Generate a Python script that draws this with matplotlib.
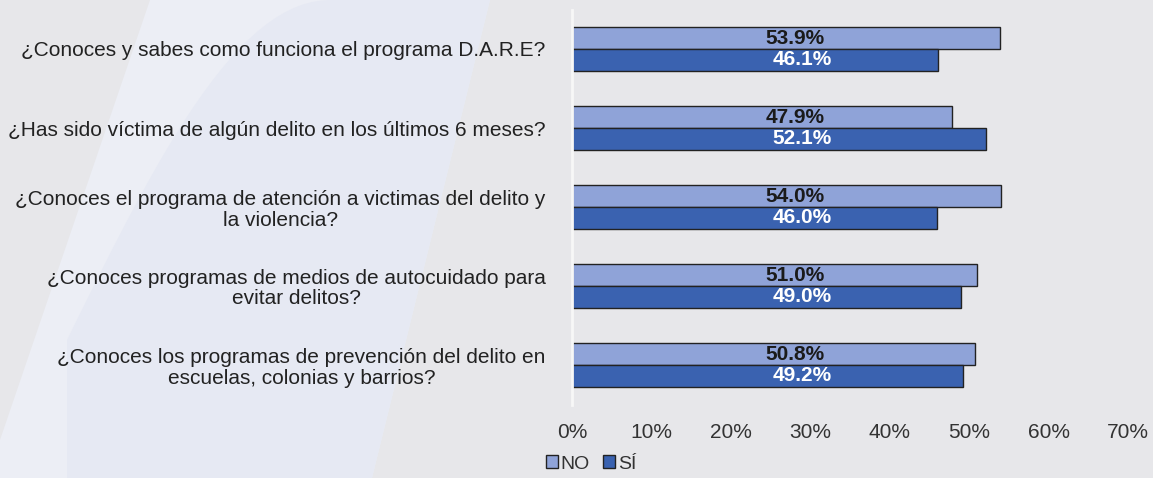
import matplotlib
matplotlib.use("Agg")
import matplotlib.pyplot as plt
from matplotlib.patches import Patch, Polygon
import numpy as np

categories = [
    "¿Conoces y sabes como funciona el programa D.A.R.E?",
    "¿Has sido víctima de algún delito en los últimos 6 meses?",
    "¿Conoces el programa de atención a victimas del delito y\nla violencia?",
    "¿Conoces programas de medios de autocuidado para\nevitar delitos?",
    "¿Conoces los programas de prevención del delito en\nescuelas, colonias y barrios?",
]
no_vals = [53.9, 47.9, 54.0, 51.0, 50.8]
si_vals = [46.1, 52.1, 46.0, 49.0, 49.2]
series_names = ["NO", "SÍ"]
xticks = [0, 10, 20, 30, 40, 50, 60, 70]

plt.rcParams['font.family'] = ['Liberation Sans', 'DejaVu Sans']

W, H = 1153, 478
fig = plt.figure(figsize=(W / 100, H / 100), dpi=100)
fig.patch.set_facecolor('#e7e7ea')

# decorative watermark (figure pixel coords -> fraction)
def fp(pts):
    return [(x / W, 1 - y / H) for x, y in pts]

fig.patches.append(Polygon(fp([(150, 0), (490, 0), (372, 478), (0, 478), (0, 440)]),
                           closed=True, transform=fig.transFigure,
                           facecolor='#eceef5', edgecolor='none', zorder=-10))
arch = [(67, 478), (67, 340)]
for t in np.linspace(0, 1, 30):
    arch.append((67 + (330 - 67) * t, 340 - 340 * np.sin(t * np.pi / 2)))
arch += [(490, 0), (372, 478)]
fig.patches.append(Polygon(fp(arch), closed=True, transform=fig.transFigure,
                           facecolor='#e6e9f3', edgecolor='none', zorder=-9))

ax = fig.add_axes([572 / W, 1 - 404.5 / H, (1128 - 572) / W, (404.5 - 9.5) / H])
ax.set_facecolor('none')
ax.set_zorder(1)

y = np.arange(len(categories))
h = 0.278
c_no = '#8fa3d8'
c_si = '#3a62b0'
ax.barh(y - h / 2, no_vals, height=h, color=c_no, edgecolor='#222222', linewidth=1.0, label=series_names[0])
ax.barh(y + h / 2, si_vals, height=h, color=c_si, edgecolor='#222222', linewidth=1.0, label=series_names[1])

for yi, v in zip(y, no_vals):
    ax.text(28.1, yi - h / 2, f"{v:.1f}%", ha='center', va='center', fontsize=15,
            fontweight='bold', color='#1a1a1a')
for yi, v in zip(y, si_vals):
    ax.text(29.0, yi + h / 2, f"{v:.1f}%", ha='center', va='center', fontsize=15,
            fontweight='bold', color='white')

ax.set_xlim(0, 70)
ax.set_ylim(len(categories) - 0.5, -0.5)
ax.set_xticks(xticks)
ax.set_xticklabels([f"{t}%" for t in xticks], fontsize=15, color='#333333')
ax.set_yticks(y)
ax.set_yticklabels(categories, fontsize=15, color='#222222', multialignment='center',
                   linespacing=1.1)
ax.tick_params(axis='both', length=0)
ax.tick_params(axis='x', pad=13)
ax.tick_params(axis='y', pad=19)
for s in ['top', 'right', 'bottom']:
    ax.spines[s].set_visible(False)
ax.spines['left'].set_color('#f7f7f7')
ax.spines['left'].set_linewidth(2)

handles = [Patch(facecolor=c_no, edgecolor='#222222', label=series_names[0]),
           Patch(facecolor=c_si, edgecolor='#222222', label=series_names[1])]
leg = fig.legend(handles=handles, loc='center left', bbox_to_anchor=(546 / W, 1 - 464 / H),
                 ncol=2, frameon=False, fontsize=14, handlelength=0.6, handleheight=0.6,
                 handletextpad=0.15, columnspacing=0.7, borderpad=0, borderaxespad=0)
for t in leg.get_texts():
    t.set_color('#333333')

fig.savefig('out.png', dpi=100, facecolor=fig.get_facecolor())
